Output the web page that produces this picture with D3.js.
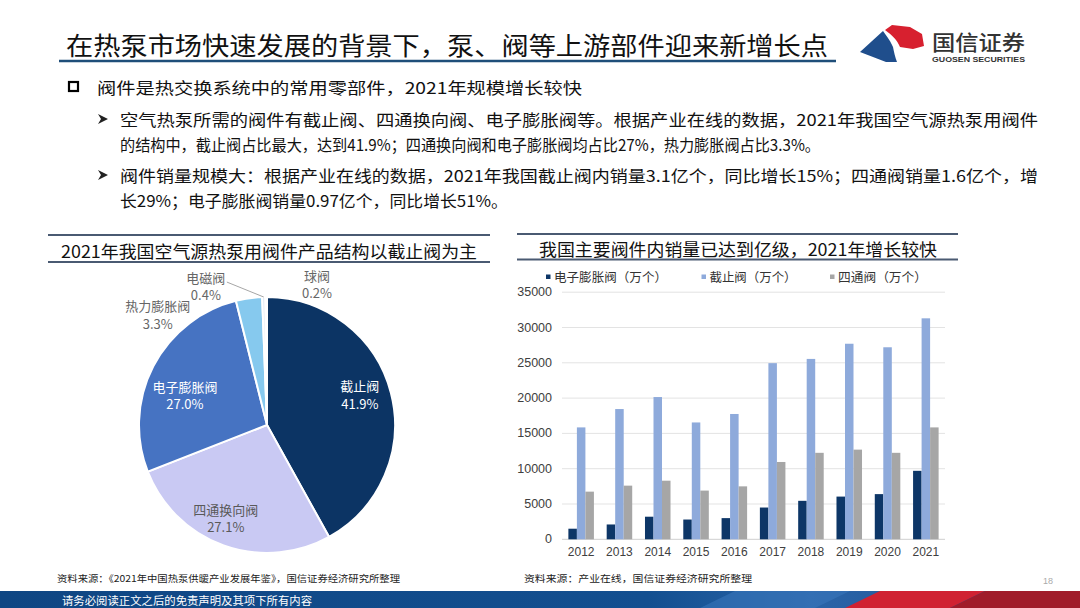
<!DOCTYPE html>
<html><head><meta charset="utf-8">
<script src="https://cdn.jsdelivr.net/npm/d3@7"></script>
<style>body{margin:0;background:#fff;}svg{display:block;}</style>
</head><body>
<svg id="c" width="1080" height="608"></svg>
<script>
// ---------- DATA ----------
const pieNames = ['截止阀','四通换向阀','电子膨胀阀','热力膨胀阀','电磁阀','球阀'];
const pieValues = [41.9, 27.1, 27.0, 3.3, 0.4, 0.2];
const years = ['2012','2013','2014','2015','2016','2017','2018','2019','2020','2021'];
const seriesNames = ['电子膨胀阀（万个）','截止阀（万个）','四通阀（万个）'];
const eevSales = [1500, 2100, 3200, 2800, 3000, 4500, 5450, 6050, 6400, 9700];
const stopSales = [15850, 18450, 20150, 16550, 17750, 24950, 25550, 27700, 27200, 31300];
const fourWaySales = [6750, 7600, 8300, 6900, 7500, 10950, 12250, 12700, 12250, 15850];
const yTicks = [0, 5000, 10000, 15000, 20000, 25000, 30000, 35000];

// ---------- STYLE ----------
const CJK = '"Noto Sans CJK SC","Noto Sans",sans-serif';
const LAT = '"Liberation Sans",Arial,sans-serif';
const pieColors = ['#0c3464','#c9c9f3','#4673c2','#86c9ee','#dbe5f4','#eef2f8'];
const pieTextColors = ['#ffffff','#595959','#ffffff','#666666','#666666','#666666'];
const pieLabelOffsets = [[-2,-6],[-8,1],[5,15],[-86,53],[-57,26],[51,24]];
const barColors = ['#0d3667','#8eaadb','#a6a6a6'];

const svg = d3.select('#c');

// ---------- HEADER ----------
svg.append('text').attr('x',66).attr('y',44).attr('dominant-baseline','central')
  .attr('font-family',CJK).attr('font-size',25).attr('fill','#111')
  .attr('textLength',762).attr('lengthAdjust','spacingAndGlyphs')
  .text('在热泵市场快速发展的背景下，泵、阀等上游部件迎来新增长点');
svg.append('line').attr('x1',59).attr('x2',836).attr('y1',61).attr('y2',61)
  .attr('stroke','#1f4e79').attr('stroke-width',2.6);

// logo
const logo = svg.append('g');
logo.append('path').attr('d','M860,52 L883,31 C888,38 891,42 893,47 C894,52 895,57 897,62 L886,62 Z').attr('fill','#1f4e8c');
logo.append('path').attr('d','M885,30 L892,25 L910,27 L922,34 L924,46 L913,49 L900,47 C897,40 892,35 885,30 Z').attr('fill','#d7202f');
logo.append('text').attr('x',932).attr('y',41).attr('dominant-baseline','central')
  .attr('font-family',CJK).attr('font-size',21).attr('font-weight',500).attr('fill','#333')
  .attr('textLength',93).attr('lengthAdjust','spacingAndGlyphs').text('国信证券');
logo.append('text').attr('x',932).attr('y',59).attr('dominant-baseline','central')
  .attr('font-family',LAT).attr('font-size',8).attr('font-weight','bold').attr('fill','#333')
  .attr('textLength',93).attr('lengthAdjust','spacingAndGlyphs').text('GUOSEN SECURITIES');

// bullets
svg.append('rect').attr('x',69).attr('y',82).attr('width',9).attr('height',9)
  .attr('fill','none').attr('stroke','#000').attr('stroke-width',2.2);
svg.append('text').attr('x',97).attr('y',87).attr('dominant-baseline','central')
  .attr('font-family',CJK).attr('font-size',16).attr('fill','#111')
  .attr('textLength',485).attr('lengthAdjust','spacingAndGlyphs')
  .text('阀件是热交换系统中的常用零部件，2021年规模增长较快');

const subLines = [
  {y:119, w:918, t:'空气热泵所需的阀件有截止阀、四通换向阀、电子膨胀阀等。根据产业在线的数据，2021年我国空气源热泵用阀件', arrow:true},
  {y:144, w:700, t:'的结构中，截止阀占比最大，达到41.9%；四通换向阀和电子膨胀阀均占比27%，热力膨胀阀占比3.3%。'},
  {y:175, w:918, t:'阀件销量规模大：根据产业在线的数据，2021年我国截止阀内销量3.1亿个，同比增长15%；四通阀销量1.6亿个，增', arrow:true},
  {y:200, w:388, t:'长29%；电子膨胀阀销量0.97亿个，同比增长51%。'}
];
subLines.forEach(l=>{
  svg.append('text').attr('x',120).attr('y',l.y).attr('dominant-baseline','central')
    .attr('font-family',CJK).attr('font-size',16).attr('fill','#111')
    .attr('textLength',l.w).attr('lengthAdjust','spacingAndGlyphs').text(l.t);
  if(l.arrow){
    svg.append('path').attr('d',`M98,${l.y-5} L108,${l.y} L98,${l.y+5} L101,${l.y} Z`).attr('fill','#222');
  }
});

// ---------- SECTION TITLES ----------
function sectionTitle(x1,x2,yTop,yBot,tx,tw,ty,txt){
  svg.append('line').attr('x1',x1).attr('x2',x2).attr('y1',yTop).attr('y2',yTop).attr('stroke','#4a5a72').attr('stroke-width',1.8);
  svg.append('line').attr('x1',x1).attr('x2',x2).attr('y1',yBot).attr('y2',yBot).attr('stroke','#4a5a72').attr('stroke-width',1.8);
  svg.append('text').attr('x',tx).attr('y',ty).attr('dominant-baseline','central')
    .attr('font-family',CJK).attr('font-size',17.5).attr('fill','#111')
    .attr('textLength',tw).attr('lengthAdjust','spacingAndGlyphs').text(txt);
}
sectionTitle(48,490,235,262,61,416,250,'2021年我国空气源热泵用阀件产品结构以截止阀为主');
sectionTitle(517,958,234,259.5,539,398,248,'我国主要阀件内销量已达到亿级，2021年增长较快');

// ---------- PIE ----------
const cx = 267, cy = 425, R = 128;
const pie = d3.pie().sort(null).value(d=>d.v);
const pieData = pie(pieNames.map((n,i)=>({n, v:pieValues[i], i})));
const arc = d3.arc().innerRadius(0).outerRadius(R);
const gPie = svg.append('g').attr('transform',`translate(${cx},${cy})`);
gPie.selectAll('path').data(pieData).enter().append('path')
  .attr('d',arc).attr('fill',d=>pieColors[d.data.i]).attr('stroke','#fff').attr('stroke-width',2);

const labelArcIn = d3.arc().innerRadius(98).outerRadius(98);
const labelArcOut = d3.arc().innerRadius(165).outerRadius(165);
const edgeArc = d3.arc().innerRadius(R).outerRadius(R);
pieData.forEach(d=>{
  const i = d.data.i;
  const c = (i<3 ? labelArcIn : labelArcOut).centroid(d);
  const px = c[0] + pieLabelOffsets[i][0], py = c[1] + pieLabelOffsets[i][1];
  const g = gPie.append('g').attr('font-family',CJK).attr('font-size',13).attr('fill',pieTextColors[i]).attr('text-anchor','middle');
  g.append('text').attr('x',px).attr('y',py-8.7).attr('dominant-baseline','central').text(d.data.n);
  g.append('text').attr('x',px).attr('y',py+8.7).attr('dominant-baseline','central').text(d.data.v.toFixed(1)+'%');
  if(d.data.n==='电磁阀'){
    const e = edgeArc.centroid(d);
    gPie.append('line').attr('x1',px+21).attr('y1',py-4).attr('x2',e[0]).attr('y2',e[1])
      .attr('stroke','#a6a6a6').attr('stroke-width',1);
  }
});

// ---------- BAR CHART ----------
const x = d3.scaleBand().domain(years).range([562,945]).paddingInner(1/3).paddingOuter(1/6);
const xs = d3.scaleBand().domain(seriesNames).range([0,x.bandwidth()]);
const y = d3.scaleLinear().domain([0,35000]).range([539.3,292.2]);
const gBar = svg.append('g');
gBar.selectAll('line.grid').data(yTicks).enter().append('line')
  .attr('x1',562).attr('x2',945).attr('y1',d=>y(d)).attr('y2',d=>y(d))
  .attr('stroke',d=>d===0?'#cfcfcf':'#e3e3e3').attr('stroke-width',1);
gBar.selectAll('text.yt').data(yTicks).enter().append('text')
  .attr('x',552).attr('y',d=>y(d)).attr('text-anchor','end').attr('dominant-baseline','central')
  .attr('font-family',LAT).attr('font-size',12.5).attr('fill','#404040').text(d=>d);
const allSeries = [eevSales, stopSales, fourWaySales];
allSeries.forEach((vals,si)=>{
  gBar.selectAll('rect.s'+si).data(years).enter().append('rect')
    .attr('x',d=>x(d)+xs(seriesNames[si])).attr('width',xs.bandwidth())
    .attr('y',(d,i)=>y(vals[i])).attr('height',(d,i)=>y(0)-y(vals[i]))
    .attr('fill',barColors[si]);
});
gBar.selectAll('text.xt').data(years).enter().append('text')
  .attr('x',d=>x(d)+x.bandwidth()/2).attr('y',552).attr('text-anchor','middle').attr('dominant-baseline','central')
  .attr('font-family',LAT).attr('font-size',12).attr('fill','#404040').text(d=>d);

// legend
const legX = [546, 701.5, 830];
const legW = [113, 87, 89];
seriesNames.forEach((n,i)=>{
  svg.append('rect').attr('x',legX[i]).attr('y',274.5).attr('width',4.5).attr('height',4.5).attr('fill',barColors[i]);
  svg.append('text').attr('x',legX[i]+8).attr('y',276.7).attr('dominant-baseline','central')
    .attr('font-family',CJK).attr('font-size',12.5).attr('fill','#333')
    .attr('textLength',legW[i]).attr('lengthAdjust','spacingAndGlyphs').text(n);
});

// ---------- FOOTER ----------
svg.append('text').attr('x',57).attr('y',578).attr('dominant-baseline','central')
  .attr('font-family',CJK).attr('font-size',9.5).attr('fill','#222')
  .attr('textLength',343).attr('lengthAdjust','spacingAndGlyphs')
  .text('资料来源：《2021年中国热泵供暖产业发展年鉴》，国信证券经济研究所整理');
svg.append('text').attr('x',524).attr('y',578).attr('dominant-baseline','central')
  .attr('font-family',CJK).attr('font-size',9.5).attr('fill','#222')
  .attr('textLength',228).attr('lengthAdjust','spacingAndGlyphs')
  .text('资料来源：产业在线，国信证券经济研究所整理');
svg.append('text').attr('x',1048).attr('y',581).attr('text-anchor','middle').attr('dominant-baseline','central')
  .attr('font-family',LAT).attr('font-size',9).attr('fill','#aaa').text('18');

const defs = svg.append('defs');
const gr = defs.append('linearGradient').attr('id','band').attr('x1','0').attr('x2','1');
gr.append('stop').attr('offset','0').attr('stop-color','#0f4683');
gr.append('stop').attr('offset','0.6').attr('stop-color','#134f90');
gr.append('stop').attr('offset','0.75').attr('stop-color','#2a64a8');
gr.append('stop').attr('offset','1').attr('stop-color','#1b4f8e');
svg.append('rect').attr('x',0).attr('y',591).attr('width',1080).attr('height',17).attr('fill','url(#band)');
svg.append('path').attr('d','M700,608 L735,591 L850,591 L815,608 Z').attr('fill','#3b78bd').attr('opacity',0.55);
svg.append('path').attr('d','M845,608 L880,591 L985,591 L950,608 Z').attr('fill','#d02232');
svg.append('path').attr('d','M950,608 L985,591 L1080,591 L1080,608 Z').attr('fill','#a01c2a');
svg.append('text').attr('x',62).attr('y',600).attr('dominant-baseline','central')
  .attr('font-family',CJK).attr('font-size',11).attr('fill','#fff')
  .attr('textLength',250).attr('lengthAdjust','spacingAndGlyphs')
  .text('请务必阅读正文之后的免责声明及其项下所有内容');
</script>
</body></html>
